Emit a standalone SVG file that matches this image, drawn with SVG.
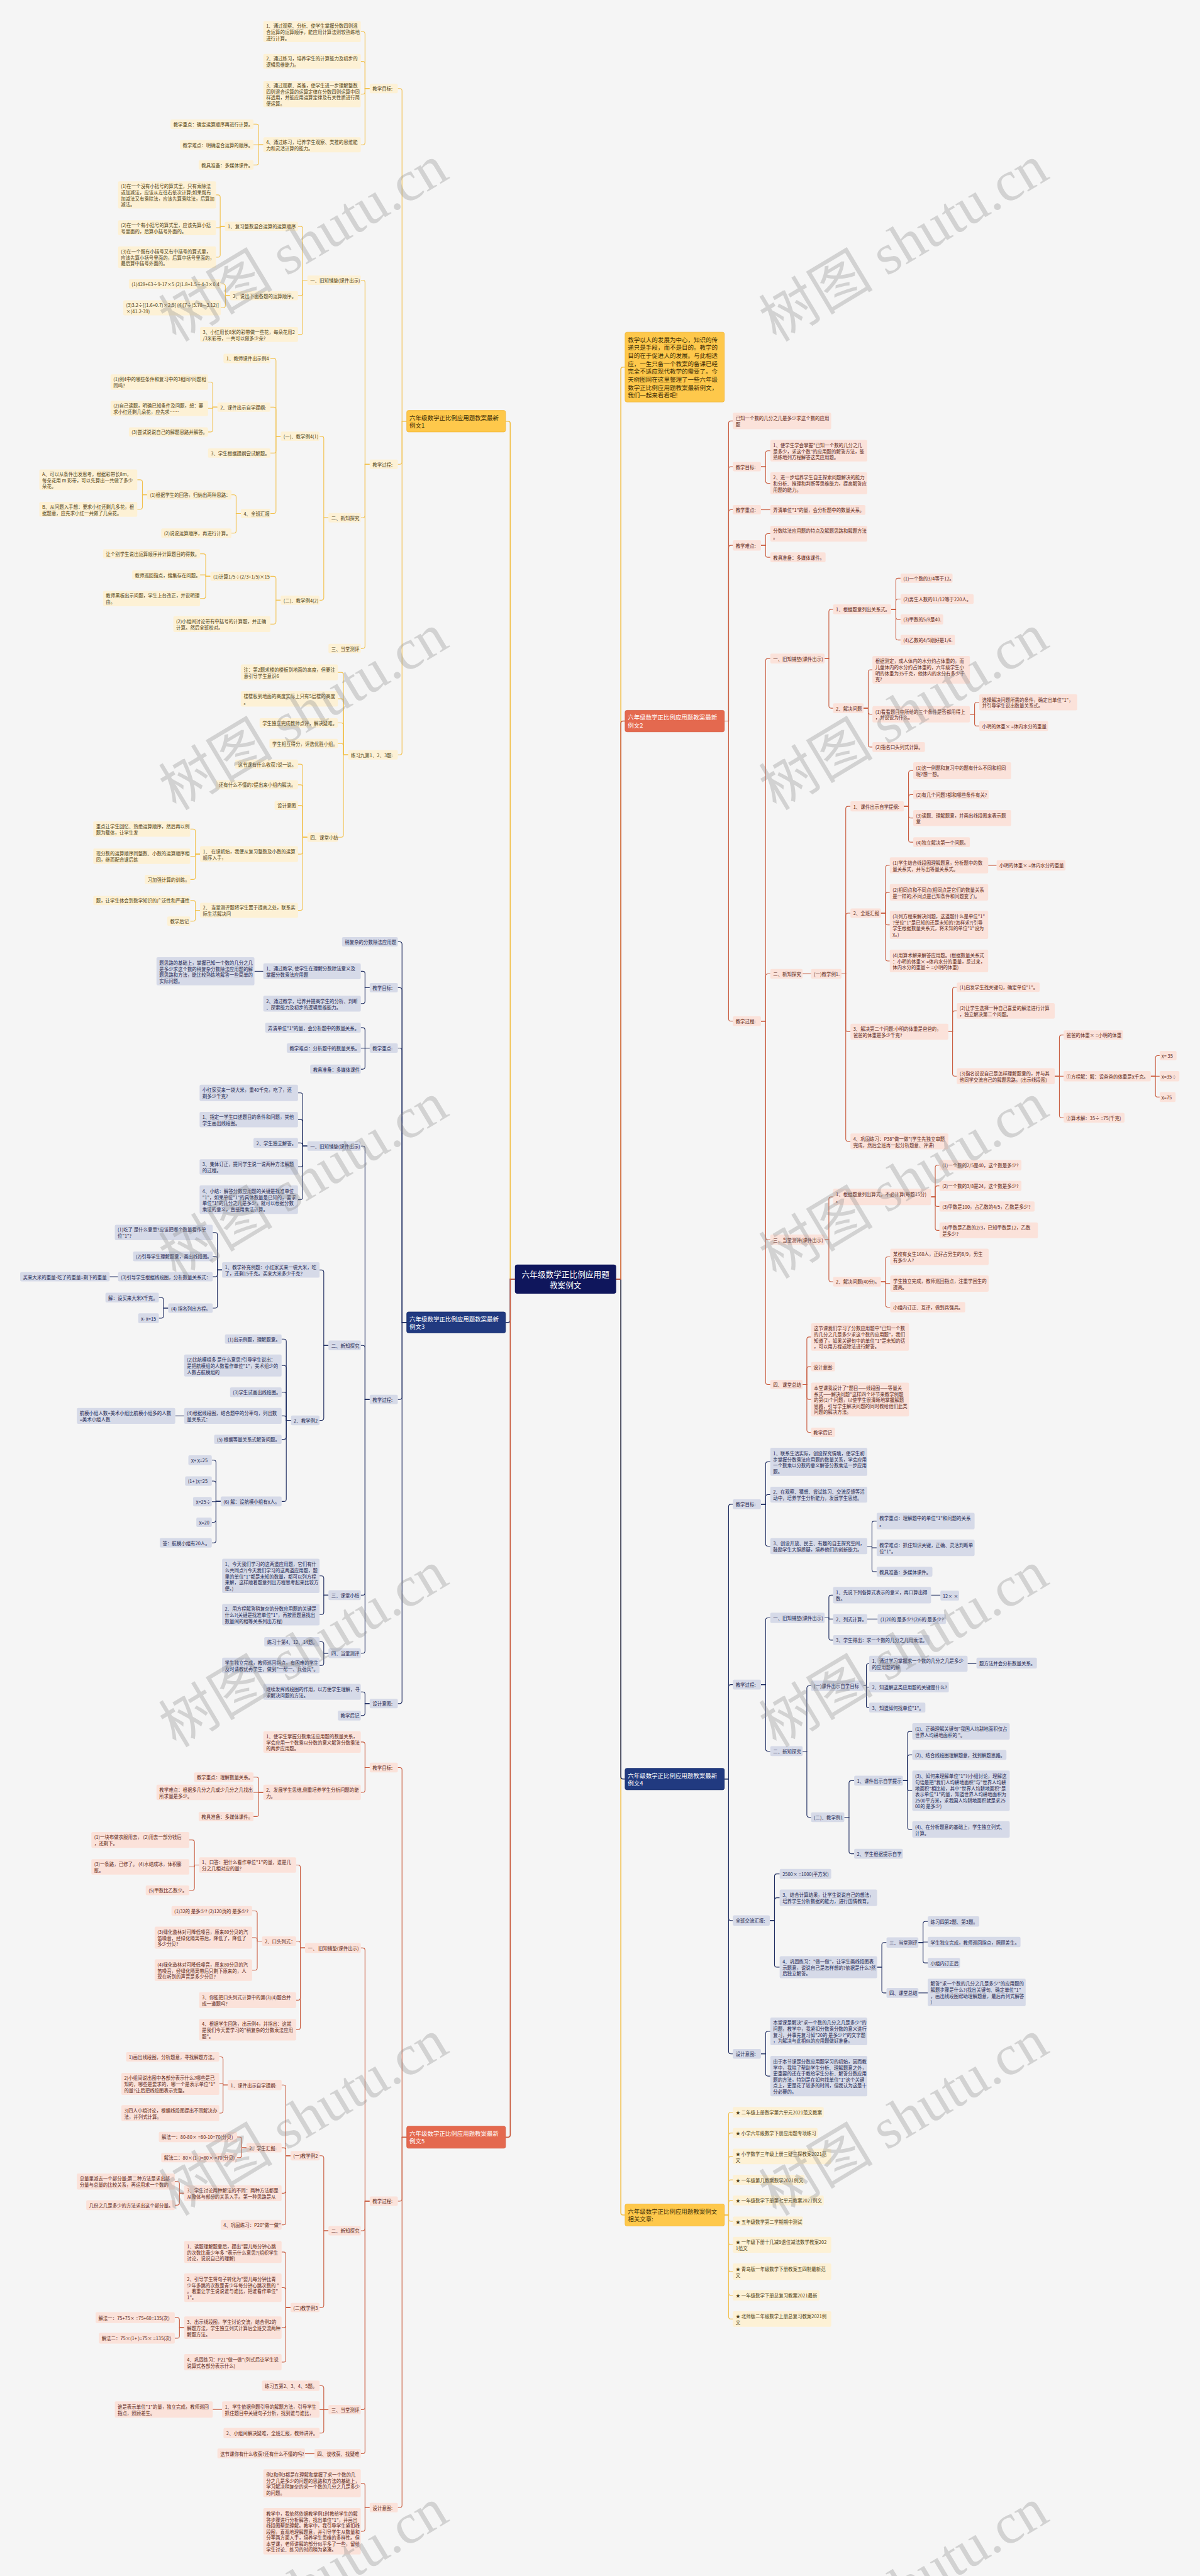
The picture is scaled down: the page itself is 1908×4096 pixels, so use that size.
<svg xmlns="http://www.w3.org/2000/svg" width="1908" height="4096" viewBox="0 0 1908 4096">
<style>
text{font-family:"Noto Sans CJK SC","Noto Sans",sans-serif;font-size:10px;dominant-baseline:central}
.y rect,.b rect,.r rect{rx:3px}
.y rect{fill:#fdf1d5}.y text{fill:#4f3f14}
.b rect{fill:#d6dae8}.b text{fill:#1c2650}
.r rect{fill:#fbe2da}.r text{fill:#5c2616}
.Y rect,.R rect,.B rect{rx:4px;stroke-width:1}
.Y rect{fill:#fec84b;stroke:#f0b433}.Y text{fill:#3b2c05;font-size:12.7px}
.R rect{fill:#e4694f;stroke:#d55a40}.R text{fill:#fff;font-size:12.7px}
.B rect{fill:#213a80;stroke:#1a2f6b}.B text{fill:#fff;font-size:12.7px}
#connectors path{fill:none;stroke-width:1.5}
.cy path{stroke:#f2c14e}.cb path{stroke:#1e2c60}.cr path{stroke:#c95d40}
.wm text{font-family:"Liberation Serif","Noto Sans CJK SC",serif;font-size:122px;fill:#8a8a8a;fill-opacity:0.32;text-anchor:middle}
</style>
<rect width="1908" height="4096" fill="#f5f5f5"/>
<g transform="scale(0.745)">
<g id="connectors">
<g class="cy">
<path style="stroke-width:2.2" d="M1099 2730H1089V904Q1089 899 1084 899H1079"/>
<path style="stroke-width:2.2" d="M1315 2730H1325V788.5Q1325 783.5 1330 783.5H1334"/>
<path style="stroke-width:2.2" d="M1315 2730H1325V4722.5Q1325 4727.5 1330 4727.5H1334"/>
<path d="M868 899H858V194Q858 189 853 189H849"/>
<path d="M868 899H858V986Q858 991 853 991H849"/>
<path d="M868 899H858V1606Q858 1611 853 1611H849"/>
<path d="M789 189H779V72.5Q779 67.5 774 67.5H770"/>
<path d="M789 189H779V136Q779 131 774 131H770"/>
<path d="M789 189H779V196Q779 201 774 201H770"/>
<path d="M789 189H779V304Q779 309 774 309H770"/>
<path d="M562 309H552V270Q552 265 547 265H541"/>
<path d="M562 309H541"/>
<path d="M562 309H552V347Q552 352 547 352H541"/>
<path d="M789 991H779V603Q779 598 774 598H770"/>
<path d="M789 991H779V1100Q779 1105 774 1105H770"/>
<path d="M789 991H779V1379Q779 1384 774 1384H770"/>
<path d="M656 598H646V488Q646 483 641 483H636"/>
<path d="M656 598H646V626Q646 631 641 631H636"/>
<path d="M656 598H646V709Q646 714 641 714H636"/>
<path d="M480 483H470V421Q470 416 465 416H461"/>
<path d="M480 483H470V486H461"/>
<path d="M480 483H470V544Q470 549 465 549H461"/>
<path d="M491 631H481V611Q481 606 476 606H471"/>
<path d="M491 631H481V652Q481 657 476 657H471"/>
<path d="M701 1105H691V936Q691 931 686 931H682"/>
<path d="M701 1105H691V1276Q691 1281 686 1281H682"/>
<path d="M599 931H589V770Q589 765 584 765H577"/>
<path d="M599 931H589V874Q589 869 584 869H577"/>
<path d="M599 931H589V962Q589 967 584 967H577"/>
<path d="M599 931H589V1091Q589 1096 584 1096H577"/>
<path d="M464 869H454V820.5Q454 815.5 449 815.5H444"/>
<path d="M464 869H454V871.5H444"/>
<path d="M464 869H454V917Q454 922 449 922H444"/>
<path d="M514 1096H504V1061Q504 1056 499 1056H494"/>
<path d="M514 1096H504V1133Q504 1138 499 1138H494"/>
<path d="M314 1056H304V1029Q304 1024 299 1024H293"/>
<path d="M314 1056H304V1082Q304 1087 299 1087H293"/>
<path d="M599 1281H589V1235Q589 1230 584 1230H577"/>
<path d="M599 1281H589V1327Q589 1332 584 1332H577"/>
<path d="M449 1230H439V1187Q439 1182 434 1182H427"/>
<path d="M449 1230H439V1227H427"/>
<path d="M449 1230H439V1272.5Q439 1277.5 434 1277.5H427"/>
<path d="M743 1611H733V1440Q733 1435 728 1435H721"/>
<path d="M743 1611H733V1496.5Q733 1491.5 728 1491.5H721"/>
<path d="M743 1611H733V1548Q733 1543 728 1543H721"/>
<path d="M743 1611H733V1592Q733 1587 728 1587H721"/>
<path d="M743 1611H733V1782Q733 1787 728 1787H721"/>
<path d="M656 1787H646V1636Q646 1631 641 1631H636"/>
<path d="M656 1787H646V1680Q646 1675 641 1675H636"/>
<path d="M656 1787H646V1724Q646 1719 641 1719H636"/>
<path d="M656 1787H646V1818Q646 1823 641 1823H636"/>
<path d="M656 1787H646V1938Q646 1943 641 1943H636"/>
<path d="M427 1823H417V1774.5Q417 1769.5 412 1769.5H406"/>
<path d="M427 1823H417V1827.5H406"/>
<path d="M427 1823H417V1872Q417 1877 412 1877H406"/>
<path d="M427 1943H417V1927Q417 1922 412 1922H406"/>
<path d="M427 1943H417V1961Q417 1966 412 1966H406"/>
<path d="M1546 4727.5H1555V4513Q1555 4508 1560 4508H1564"/>
<path d="M1546 4727.5H1555V4557.5Q1555 4552.5 1560 4552.5H1564"/>
<path d="M1546 4727.5H1555V4607.5Q1555 4602.5 1560 4602.5H1564"/>
<path d="M1546 4727.5H1555V4657.5Q1555 4652.5 1560 4652.5H1564"/>
<path d="M1546 4727.5H1555V4701.5Q1555 4696.5 1560 4696.5H1564"/>
<path d="M1546 4727.5H1555V4736Q1555 4741 1560 4741H1564"/>
<path d="M1546 4727.5H1555V4786Q1555 4791 1560 4791H1564"/>
<path d="M1546 4727.5H1555V4843.5Q1555 4848.5 1560 4848.5H1564"/>
<path d="M1546 4727.5H1555V4894Q1555 4899 1560 4899H1564"/>
<path d="M1546 4727.5H1555V4944.5Q1555 4949.5 1560 4949.5H1564"/>
</g>
<g class="cb">
<path style="stroke-width:2.2" d="M1099 2730H1089V2817.5Q1089 2822.5 1084 2822.5H1079"/>
<path style="stroke-width:2.2" d="M1315 2730H1325V3792Q1325 3797 1330 3797H1334"/>
<path d="M868 2822.5H858V2015Q858 2010 853 2010H849"/>
<path d="M868 2822.5H858V2113Q858 2108 853 2108H849"/>
<path d="M868 2822.5H858V2242Q858 2237 853 2237H849"/>
<path d="M868 2822.5H858V2982Q858 2987 853 2987H849"/>
<path d="M868 2822.5H858V3631Q858 3636 853 3636H849"/>
<path d="M789 2108H779V2078Q779 2073 774 2073H770"/>
<path d="M789 2108H779V2137Q779 2142 774 2142H770"/>
<path d="M562 2073H543"/>
<path d="M789 2237H779V2198.5Q779 2193.5 774 2193.5H770"/>
<path d="M789 2237H770"/>
<path d="M789 2237H779V2277Q779 2282 774 2282H770"/>
<path d="M789 2987H779V2451Q779 2446 774 2446H770"/>
<path d="M789 2987H779V2876.5Q779 2871.5 774 2871.5H770"/>
<path d="M789 2987H779V3399.5Q779 3404.5 774 3404.5H770"/>
<path d="M789 2987H779V3523.5Q779 3528.5 774 3528.5H770"/>
<path d="M656 2446H646V2337.5Q646 2332.5 641 2332.5H636"/>
<path d="M656 2446H646V2394.5Q646 2389.5 641 2389.5H636"/>
<path d="M656 2446H646V2444.5Q646 2439.5 641 2439.5H636"/>
<path d="M656 2446H646V2485.5Q646 2490.5 641 2490.5H636"/>
<path d="M656 2446H646V2555.5Q646 2560.5 641 2560.5H636"/>
<path d="M701 2871.5H691V2715.5Q691 2710.5 686 2710.5H682"/>
<path d="M701 2871.5H691V3026.5Q691 3031.5 686 3031.5H682"/>
<path d="M474 2710.5H464V2635.5Q464 2630.5 459 2630.5H454"/>
<path d="M474 2710.5H464V2686.5Q464 2681.5 459 2681.5H454"/>
<path d="M474 2710.5H464V2720Q464 2725 459 2725H454"/>
<path d="M474 2710.5H464V2787Q464 2792 459 2792H454"/>
<path d="M252 2725H234"/>
<path d="M359 2792H349V2774.5Q349 2769.5 344 2769.5H339"/>
<path d="M359 2792H349V2808.5Q349 2813.5 344 2813.5H339"/>
<path d="M621 3031.5H611V2863Q611 2858 606 2858H601"/>
<path d="M621 3031.5H611V2919.5Q611 2914.5 606 2914.5H601"/>
<path d="M621 3031.5H611V2976.5Q611 2971.5 606 2971.5H601"/>
<path d="M621 3031.5H611V3027Q611 3022 606 3022H601"/>
<path d="M621 3031.5H611V3067Q611 3072 606 3072H601"/>
<path d="M621 3031.5H611V3199.5Q611 3204.5 606 3204.5H601"/>
<path d="M393 3022H374"/>
<path d="M471 3204.5H461V3121.5Q461 3116.5 456 3116.5H452"/>
<path d="M471 3204.5H461V3166Q461 3161 456 3161H452"/>
<path d="M471 3204.5H461V3205H452"/>
<path d="M471 3204.5H461V3244Q461 3249 456 3249H452"/>
<path d="M471 3204.5H461V3288Q461 3293 456 3293H452"/>
<path d="M701 3404.5H691V3368.5Q691 3363.5 686 3363.5H682"/>
<path d="M701 3404.5H691V3441Q691 3446 686 3446H682"/>
<path d="M701 3528.5H691V3509Q691 3504 686 3504H682"/>
<path d="M701 3528.5H691V3549.5Q691 3554.5 686 3554.5H682"/>
<path d="M789 3636H779V3616Q779 3611 774 3611H770"/>
<path d="M789 3636H779V3656.5Q779 3661.5 774 3661.5H770"/>
<path d="M1546 3797H1555V3215.5Q1555 3210.5 1560 3210.5H1564"/>
<path d="M1546 3797H1555V3600.5Q1555 3595.5 1560 3595.5H1564"/>
<path d="M1546 3797H1555V4094Q1555 4099 1560 4099H1564"/>
<path d="M1546 3797H1555V4378.5Q1555 4383.5 1560 4383.5H1564"/>
<path d="M1624 3210.5H1634V3125Q1634 3120 1639 3120H1644"/>
<path d="M1624 3210.5H1634V3195Q1634 3190 1639 3190H1644"/>
<path d="M1624 3210.5H1634V3295Q1634 3300 1639 3300H1644"/>
<path d="M1851 3300H1861V3251.5Q1861 3246.5 1866 3246.5H1871"/>
<path d="M1851 3300H1861V3303.5H1871"/>
<path d="M1851 3300H1861V3349.5Q1861 3354.5 1866 3354.5H1871"/>
<path d="M1624 3595.5H1634V3458Q1634 3453 1639 3453H1644"/>
<path d="M1624 3595.5H1634V3732.5Q1634 3737.5 1639 3737.5H1644"/>
<path d="M1760 3453H1769V3409.5Q1769 3404.5 1774 3404.5H1778"/>
<path d="M1760 3453H1769V3455.5H1778"/>
<path d="M1760 3453H1769V3495.5Q1769 3500.5 1774 3500.5H1778"/>
<path d="M1987 3404.5H2007"/>
<path d="M1851 3455.5H1873"/>
<path d="M1713 3737.5H1722V3603Q1722 3598 1727 3598H1731"/>
<path d="M1713 3737.5H1722V3873.5Q1722 3878.5 1727 3878.5H1731"/>
<path d="M1843 3598H1849V3555Q1849 3551 1853 3551H1855"/>
<path d="M1843 3598H1849V3601H1855"/>
<path d="M1843 3598H1849V3640.5Q1849 3644.5 1853 3644.5H1855"/>
<path d="M2065 3551H2084"/>
<path d="M1802 3878.5H1812V3805.5Q1812 3800.5 1817 3800.5H1823"/>
<path d="M1802 3878.5H1812V3951.5Q1812 3956.5 1817 3956.5H1823"/>
<path d="M1927 3800.5H1937V3700.5Q1937 3695.5 1942 3695.5H1947"/>
<path d="M1927 3800.5H1937V3750.5Q1937 3745.5 1942 3745.5H1947"/>
<path d="M1927 3800.5H1937V3817Q1937 3822 1942 3822H1947"/>
<path d="M1927 3800.5H1937V3899.5Q1937 3904.5 1942 3904.5H1947"/>
<path d="M1643 4099H1653V4004.5Q1653 3999.5 1658 3999.5H1664"/>
<path d="M1643 4099H1653V4055.5Q1653 4050.5 1658 4050.5H1664"/>
<path d="M1643 4099H1653V4193.5Q1653 4198.5 1658 4198.5H1664"/>
<path d="M1872 4198.5H1882V4151Q1882 4146 1887 4146H1892"/>
<path d="M1872 4198.5H1882V4248.5Q1882 4253.5 1887 4253.5H1892"/>
<path d="M1960 4146H1970V4106Q1970 4101 1975 4101H1980"/>
<path d="M1960 4146H1970V4145H1980"/>
<path d="M1960 4146H1970V4184.5Q1970 4189.5 1975 4189.5H1980"/>
<path d="M1960 4253.5H1980"/>
<path d="M1624 4383.5H1634V4340.5Q1634 4335.5 1639 4335.5H1644"/>
<path d="M1624 4383.5H1634V4426Q1634 4431 1639 4431H1644"/>
</g>
<g class="cr">
<path style="stroke-width:2.2" d="M1099 2730H1089V4556.5Q1089 4561.5 1084 4561.5H1079"/>
<path style="stroke-width:2.2" d="M1315 2730H1325V1544Q1325 1539 1330 1539H1334"/>
<path d="M868 4561.5H858V3777.5Q858 3772.5 853 3772.5H849"/>
<path d="M868 4561.5H858V4693Q858 4698 853 4698H849"/>
<path d="M868 4561.5H858V5347Q858 5352 853 5352H849"/>
<path d="M789 3772.5H779V3723Q779 3718 774 3718H770"/>
<path d="M789 3772.5H779V3820.5Q779 3825.5 774 3825.5H770"/>
<path d="M562 3825.5H552V3798Q552 3793 547 3793H541"/>
<path d="M562 3825.5H541"/>
<path d="M562 3825.5H552V3872Q552 3877 547 3877H541"/>
<path d="M789 4698H779V4162.5Q779 4157.5 774 4157.5H770"/>
<path d="M789 4698H779V4756Q779 4761 774 4761H770"/>
<path d="M789 4698H779V5138Q779 5143 774 5143H770"/>
<path d="M789 4698H779V5232Q779 5237 774 5237H770"/>
<path d="M651 4157.5H641V3985.5Q641 3980.5 636 3980.5H632"/>
<path d="M651 4157.5H641V4148Q641 4143 636 4143H632"/>
<path d="M651 4157.5H641V4264Q641 4269 636 4269H632"/>
<path d="M651 4157.5H641V4327Q641 4332 636 4332H632"/>
<path d="M425 3980.5H415V3932Q415 3927 410 3927H404"/>
<path d="M425 3980.5H415V3984.5H404"/>
<path d="M425 3980.5H415V4029.5Q415 4034.5 410 4034.5H404"/>
<path d="M559 4143H549V4083.5Q549 4078.5 544 4078.5H538"/>
<path d="M559 4143H549V4140.5Q549 4135.5 544 4135.5H538"/>
<path d="M559 4143H549V4200Q549 4205 544 4205H538"/>
<path d="M701 4761H691V4606Q691 4601 686 4601H682"/>
<path d="M701 4761H691V4920Q691 4925 686 4925H682"/>
<path d="M620 4601H610V4455Q610 4450 605 4450H601"/>
<path d="M620 4601H610V4589Q610 4584 605 4584H601"/>
<path d="M620 4601H610V4676Q610 4681 605 4681H601"/>
<path d="M620 4601H610V4743.5Q610 4748.5 605 4748.5H601"/>
<path d="M486 4450H476V4395Q476 4390 471 4390H468"/>
<path d="M486 4450H476V4447.5H468"/>
<path d="M486 4450H476V4505Q476 4510 471 4510H468"/>
<path d="M526 4584H516V4566Q516 4561 511 4561H506"/>
<path d="M526 4584H516V4600Q516 4605 511 4605H506"/>
<path d="M393 4681H383V4661Q383 4656 378 4656H373"/>
<path d="M393 4681H383V4701.5Q383 4706.5 378 4706.5H373"/>
<path d="M620 4925H610V4811.5Q610 4806.5 605 4806.5H601"/>
<path d="M620 4925H610V4887.5Q610 4882.5 605 4882.5H601"/>
<path d="M620 4925H610V4963Q610 4968 605 4968H601"/>
<path d="M620 4925H610V5036.5Q610 5041.5 605 5041.5H601"/>
<path d="M393 4968H383V4951.5Q383 4946.5 378 4946.5H373"/>
<path d="M393 4968H383V4985.5Q383 4990.5 378 4990.5H373"/>
<path d="M701 5143H691V5097Q691 5092 686 5092H682"/>
<path d="M701 5143H682"/>
<path d="M701 5143H691V5188Q691 5193 686 5193H682"/>
<path d="M474 5142.5H454"/>
<path d="M671 5237H651"/>
<path d="M789 5352H779V5305Q779 5300 774 5300H770"/>
<path d="M789 5352H779V5397.5Q779 5402.5 774 5402.5H770"/>
<path d="M1546 1539H1555V903.5Q1555 898.5 1560 898.5H1564"/>
<path d="M1546 1539H1555V1001Q1555 996 1560 996H1564"/>
<path d="M1546 1539H1555V1093Q1555 1088 1560 1088H1564"/>
<path d="M1546 1539H1555V1169Q1555 1164 1560 1164H1564"/>
<path d="M1546 1539H1555V2174.5Q1555 2179.5 1560 2179.5H1564"/>
<path d="M1624 996H1634V967Q1634 962 1639 962H1644"/>
<path d="M1624 996H1634V1026.5Q1634 1031.5 1639 1031.5H1644"/>
<path d="M1624 1088H1644"/>
<path d="M1624 1164H1634V1144Q1634 1139 1639 1139H1644"/>
<path d="M1624 1164H1634V1184.5Q1634 1189.5 1639 1189.5H1644"/>
<path d="M1624 2179.5H1634V1410.5Q1634 1405.5 1639 1405.5H1644"/>
<path d="M1624 2179.5H1634V2083.5Q1634 2078.5 1639 2078.5H1644"/>
<path d="M1624 2179.5H1634V2641Q1634 2646 1639 2646H1644"/>
<path d="M1624 2179.5H1634V2950Q1634 2955 1639 2955H1644"/>
<path d="M1760 1405.5H1769V1305.5Q1769 1300.5 1774 1300.5H1778"/>
<path d="M1760 1405.5H1769V1506.5Q1769 1511.5 1774 1511.5H1778"/>
<path d="M1902 1300.5H1912V1239Q1912 1234 1917 1234H1922"/>
<path d="M1902 1300.5H1912V1283.5Q1912 1278.5 1917 1278.5H1922"/>
<path d="M1902 1300.5H1912V1317Q1912 1322 1917 1322H1922"/>
<path d="M1902 1300.5H1912V1361Q1912 1366 1917 1366H1922"/>
<path d="M1843 1511.5H1853V1434.5Q1853 1429.5 1858 1429.5H1862"/>
<path d="M1843 1511.5H1853V1519.5Q1853 1524.5 1858 1524.5H1862"/>
<path d="M1843 1511.5H1853V1589.5Q1853 1594.5 1858 1594.5H1862"/>
<path d="M2070 1524.5H2080V1504Q2080 1499 2085 1499H2090"/>
<path d="M2070 1524.5H2080V1544.5Q2080 1549.5 2085 1549.5H2090"/>
<path d="M1713 2078.5H1731"/>
<path d="M1796 2078.5H1805V1726Q1805 1721 1810 1721H1815"/>
<path d="M1796 2078.5H1805V1954Q1805 1949 1810 1949H1815"/>
<path d="M1796 2078.5H1805V2197Q1805 2202 1810 2202H1815"/>
<path d="M1796 2078.5H1805V2431Q1805 2436 1810 2436H1815"/>
<path d="M1929 1721H1939V1650Q1939 1645 1944 1645H1949"/>
<path d="M1929 1721H1939V1701Q1939 1696 1944 1696H1949"/>
<path d="M1929 1721H1939V1741Q1939 1746 1944 1746H1949"/>
<path d="M1929 1721H1939V1792.5Q1939 1797.5 1944 1797.5H1949"/>
<path d="M1880 1949H1890V1852Q1890 1847 1895 1847H1899"/>
<path d="M1880 1949H1890V1909.5Q1890 1904.5 1895 1904.5H1899"/>
<path d="M1880 1949H1890V1969Q1890 1974 1895 1974H1899"/>
<path d="M1880 1949H1890V2046Q1890 2051 1895 2051H1899"/>
<path d="M2109 1847H2127"/>
<path d="M2024 2202H2033V2112Q2033 2107 2038 2107H2042"/>
<path d="M2024 2202H2033V2162.5Q2033 2157.5 2038 2157.5H2042"/>
<path d="M2024 2202H2033V2292Q2033 2297 2038 2297H2042"/>
<path d="M2251 2297H2261V2214Q2261 2209 2266 2209H2270"/>
<path d="M2251 2297H2270"/>
<path d="M2251 2297H2261V2380.5Q2261 2385.5 2266 2385.5H2270"/>
<path d="M2456 2297H2466V2258Q2466 2253 2471 2253H2475"/>
<path d="M2456 2297H2475"/>
<path d="M2456 2297H2466V2336.5Q2466 2341.5 2471 2341.5H2475"/>
<path d="M1760 2646H1769V2559.5Q1769 2554.5 1774 2554.5H1778"/>
<path d="M1760 2646H1769V2730.5Q1769 2735.5 1774 2735.5H1778"/>
<path d="M1987 2554.5H1996V2492Q1996 2487 2001 2487H2005"/>
<path d="M1987 2554.5H1996V2536Q1996 2531 2001 2531H2005"/>
<path d="M1987 2554.5H1996V2570Q1996 2575 2001 2575H2005"/>
<path d="M1987 2554.5H1996V2621Q1996 2626 2001 2626H2005"/>
<path d="M1880 2735.5H1890V2687.5Q1890 2682.5 1895 2682.5H1900"/>
<path d="M1880 2735.5H1890V2739.5H1900"/>
<path d="M1880 2735.5H1890V2785Q1890 2790 1895 2790H1900"/>
<path d="M1713 2955H1722V2858.5Q1722 2853.5 1727 2853.5H1731"/>
<path d="M1713 2955H1722V2922Q1722 2917 1727 2917H1731"/>
<path d="M1713 2955H1722V2982Q1722 2987 1727 2987H1731"/>
<path d="M1713 2955H1722V3052Q1722 3057 1727 3057H1731"/>
</g>
</g>

<g id="center"><rect x="1099" y="2699" width="216" height="62" rx="5" fill="#0f165c"/><text x="1207" y="2719" text-anchor="middle" fill="#fff" style="font-size:17px">六年级数学正比例应用题<tspan x="1207" dy="22">教案例文</tspan></text></g>

<g id="B1" class="Y"><rect x="868" y="876" width="211" height="46"/><text x="874" y="890.8">六年级数学正比例应用题教案最新<tspan x="874" dy="16.4">例文1</tspan></text></g>
<g id="B3" class="B"><rect x="868" y="2800" width="211" height="45"/><text x="874" y="2814.3">六年级数学正比例应用题教案最新<tspan x="874" dy="16.4">例文3</tspan></text></g>
<g id="B5" class="R"><rect x="868" y="4538" width="211" height="47"/><text x="874" y="4553.3">六年级数学正比例应用题教案最新<tspan x="874" dy="16.4">例文5</tspan></text></g>
<g id="intro" class="Y"><rect x="1334" y="709" width="212" height="149"/><text x="1340" y="724.5" style="font-size:12.8px">教学以人的发展为中心，知识的传<tspan x="1340" dy="17">递只是手段，而不是目的。教学的</tspan><tspan x="1340" dy="17">目的在于促进人的发展。与此相适</tspan><tspan x="1340" dy="17">应，一生只备一个教案的备课已经</tspan><tspan x="1340" dy="17">完全不适应现代教学的需要了。今</tspan><tspan x="1340" dy="17">天树图网在这里整理了一些六年级</tspan><tspan x="1340" dy="17">数学正比例应用题教案最新例文，</tspan><tspan x="1340" dy="17">我们一起来看看吧!</tspan></text></g>
<g id="B2" class="R"><rect x="1334" y="1516" width="212" height="46"/><text x="1340" y="1530.8">六年级数学正比例应用题教案最新<tspan x="1340" dy="16.4">例文2</tspan></text></g>
<g id="B4" class="B"><rect x="1334" y="3774" width="212" height="46"/><text x="1340" y="3788.8">六年级数学正比例应用题教案最新<tspan x="1340" dy="16.4">例文4</tspan></text></g>
<g id="B6" class="Y"><rect x="1334" y="4704" width="212" height="47"/><text x="1340" y="4719.3">六年级数学正比例应用题教案例文<tspan x="1340" dy="16.4">相关文章:</tspan></text></g>

<g id="Y1" class="y"><rect x="789" y="179" width="60" height="20"/><text x="795" y="189">教学目标:</text></g>
<g id="Y1a" class="y"><rect x="562" y="45" width="208" height="45"/><text x="568" y="54.8">1、通过观察、分析、使学生掌握分数四则混<tspan x="568" dy="12.7">合运算的运算顺序，能应用计算法则较熟练地</tspan><tspan x="568" dy="12.7">进行计算。</tspan></text></g>
<g id="Y1b" class="y"><rect x="562" y="115" width="208" height="32"/><text x="568" y="124.65">2、通过练习，培养学生的计算能力及初步的<tspan x="568" dy="12.7">逻辑思维能力。</tspan></text></g>
<g id="Y1c" class="y"><rect x="562" y="173" width="208" height="56"/><text x="568" y="181.95">3、通过观察、类推，使学生进一步理解整数<tspan x="568" dy="12.7">四则混合运算的运算定律在分数四则运算中同</tspan><tspan x="568" dy="12.7">样适用，并能应用运算定律及有关性质进行简</tspan><tspan x="568" dy="12.7">便运算。</tspan></text></g>
<g id="Y1d" class="y"><rect x="562" y="293" width="208" height="32"/><text x="568" y="302.65">4、通过练习，培养学生观察、类推的思维能<tspan x="568" dy="12.7">力和灵活计算的能力。</tspan></text></g>
<g id="Y1d1" class="y"><rect x="364" y="255" width="177" height="20"/><text x="370" y="265">教学重点：确定运算顺序再进行计算。</text></g>
<g id="Y1d2" class="y"><rect x="384" y="299" width="157" height="20"/><text x="390" y="309">教学难点：明确混合运算的顺序。</text></g>
<g id="Y1d3" class="y"><rect x="424" y="342" width="117" height="20"/><text x="430" y="352">教具准备：多媒体课件。</text></g>
<g id="Y2" class="y"><rect x="789" y="981" width="60" height="20"/><text x="795" y="991">教学过程:</text></g>
<g id="Y21" class="y"><rect x="656" y="588" width="114" height="20"/><text x="662" y="598">一、旧知铺垫(课件出示)</text></g>
<g id="Y211" class="y"><rect x="480" y="473" width="156" height="20"/><text x="486" y="483">1、复习整数混合运算的运算顺序</text></g>
<g id="Y2111" class="y"><rect x="252" y="387" width="209" height="58"/><text x="258" y="396.95">(1)在一个没有小括号的算式里，只有乘除法<tspan x="258" dy="12.7">或加减法，应该从左往右依次计算;如果既有</tspan><tspan x="258" dy="12.7">加减法又有乘除法，应该先算乘除法，后算加</tspan><tspan x="258" dy="12.7">减法。</tspan></text></g>
<g id="Y2112" class="y"><rect x="252" y="470" width="209" height="32"/><text x="258" y="479.65">(2)在一个有小括号的算式里，应该先算小括<tspan x="258" dy="12.7">号里面的，后算小括号外面的。</tspan></text></g>
<g id="Y2113" class="y"><rect x="252" y="526" width="209" height="46"/><text x="258" y="536.3">(3)在一个既有小括号又有中括号的算式里，<tspan x="258" dy="12.7">应该先算小括号里面的，后算中括号里面的，</tspan><tspan x="258" dy="12.7">最后算中括号外面的。</tspan></text></g>
<g id="Y212" class="y"><rect x="491" y="621" width="145" height="20"/><text x="497" y="631">2、说出下面各题的运算顺序。</text></g>
<g id="Y2121" class="y"><rect x="275" y="596" width="196" height="20"/><text x="281" y="606">(1)428+63÷9-17×5 (2)1.8+1.5÷4-3×0.4</text></g>
<g id="Y2122" class="y"><rect x="263" y="641" width="208" height="32"/><text x="269" y="650.65">(3)3.2÷[(1.6+0.7)×2.5] (4)[7÷(5.78—3.12)]<tspan x="269" dy="12.7">×(41.2-39)</tspan></text></g>
<g id="Y213" class="y"><rect x="427" y="698" width="209" height="32"/><text x="433" y="707.65">3、小红用长8米的彩带做一些花，每朵花用2<tspan x="433" dy="12.7">/3米彩带，一共可以做多少朵?</tspan></text></g>
<g id="Y22" class="y"><rect x="701" y="1095" width="69" height="20"/><text x="707" y="1105">二、新知探究</text></g>
<g id="Y221" class="y"><rect x="599" y="921" width="83" height="20"/><text x="605" y="931">(一)、教学例4(1)</text></g>
<g id="Y2211" class="y"><rect x="477" y="755" width="100" height="20"/><text x="483" y="765">1、教师课件出示例4</text></g>
<g id="Y2212" class="y"><rect x="464" y="859" width="113" height="20"/><text x="470" y="869">2、课件出示自学提纲:</text></g>
<g id="Y22121" class="y"><rect x="236" y="799" width="208" height="33"/><text x="242" y="809.15">(1)例4中的哪些条件和复习中的3相同?问题相<tspan x="242" dy="12.7">同吗?</tspan></text></g>
<g id="Y22122" class="y"><rect x="236" y="855" width="208" height="33"/><text x="242" y="865.15">(2)自己读题，明确已知条件及问题，想：要<tspan x="242" dy="12.7">求小红还剩几朵花，应先求……</tspan></text></g>
<g id="Y22123" class="y"><rect x="275" y="912" width="169" height="20"/><text x="281" y="922">(3)尝试说说自己的解题思路并解答。</text></g>
<g id="Y2213" class="y"><rect x="444" y="957" width="133" height="20"/><text x="450" y="967">3、学生根据提纲尝试解题。</text></g>
<g id="Y2214" class="y"><rect x="514" y="1086" width="63" height="20"/><text x="520" y="1096">4、全班汇报</text></g>
<g id="Y22141" class="y"><rect x="314" y="1046" width="180" height="20"/><text x="320" y="1056">(1)根据学生的回答，归纳出两种思路：</text></g>
<g id="Y221411" class="y"><rect x="84" y="1002" width="209" height="44"/><text x="90" y="1011.3">A、可以从条件出发思考，根据彩带长8m，<tspan x="90" dy="12.7">每朵花用 m 彩带，可以先算出一共做了多少</tspan><tspan x="90" dy="12.7">朵花。</tspan></text></g>
<g id="Y221412" class="y"><rect x="84" y="1071" width="209" height="32"/><text x="90" y="1080.65">B、从问题入手想：要求小红还剩几多花，根<tspan x="90" dy="12.7">据题意，应先求小红一共做了几朵花。</tspan></text></g>
<g id="Y22142" class="y"><rect x="344" y="1128" width="150" height="20"/><text x="350" y="1138">(2)说说运算顺序，再进行计算。</text></g>
<g id="Y222" class="y"><rect x="599" y="1271" width="83" height="20"/><text x="605" y="1281">(二)、教学例4(2)</text></g>
<g id="Y2221" class="y"><rect x="449" y="1220" width="128" height="20"/><text x="455" y="1230">(1)计算1/5÷(2/3+1/5)×15</text></g>
<g id="Y22211" class="y"><rect x="220" y="1172" width="207" height="20"/><text x="226" y="1182">让个别学生说出运算顺序并计算题目的得数。</text></g>
<g id="Y22212" class="y"><rect x="282" y="1217" width="145" height="20"/><text x="288" y="1227">教师巡回指点，搜集存在问题。</text></g>
<g id="Y22213" class="y"><rect x="220" y="1261" width="207" height="33"/><text x="226" y="1271.15">教师黑板出示问题，学生上台改正，并说明理<tspan x="226" dy="12.7">由。</tspan></text></g>
<g id="Y2222" class="y"><rect x="370" y="1315" width="207" height="34"/><text x="376" y="1325.65">(2)小组间讨论带有中括号的计算题，并正确<tspan x="376" dy="12.7">计算。然后全班校对。</tspan></text></g>
<g id="Y23" class="y"><rect x="701" y="1374" width="69" height="20"/><text x="707" y="1384">三、当堂测评</text></g>
<g id="Y3" class="y"><rect x="743" y="1601" width="106" height="20"/><text x="749" y="1611">练习九第1、2、3题:</text></g>
<g id="Y31" class="y"><rect x="514" y="1418" width="207" height="34"/><text x="520" y="1428.65">注：第2题求楼的楼板到地面的高度，但要注<tspan x="520" dy="12.7">意引导学生意识6</tspan></text></g>
<g id="Y32" class="y"><rect x="514" y="1475" width="207" height="33"/><text x="520" y="1485.15">楼楼板到地面的高度实际上只有5层楼的高度<tspan x="520" dy="12.7">。</tspan></text></g>
<g id="Y33" class="y"><rect x="554" y="1533" width="167" height="20"/><text x="560" y="1543">学生独立完成教师点评，解决疑难。</text></g>
<g id="Y34" class="y"><rect x="575" y="1577" width="146" height="20"/><text x="581" y="1587">学生相互得分，评选优胜小组。</text></g>
<g id="Y35" class="y"><rect x="656" y="1777" width="65" height="20"/><text x="662" y="1787">四、课堂小结</text></g>
<g id="Y351" class="y"><rect x="502" y="1621" width="134" height="20"/><text x="508" y="1631">这节课有什么收获?说一说。</text></g>
<g id="Y352" class="y"><rect x="461" y="1665" width="175" height="20"/><text x="467" y="1675">还有什么不懂的?提出来小组内解决。</text></g>
<g id="Y353" class="y"><rect x="586" y="1709" width="50" height="20"/><text x="592" y="1719">设计意图</text></g>
<g id="Y354" class="y"><rect x="427" y="1806" width="209" height="34"/><text x="433" y="1816.65">1、 在课初始，我便从复习整数及小数的运算<tspan x="433" dy="12.7">顺序入手，</tspan></text></g>
<g id="Y3541" class="y"><rect x="199" y="1753" width="207" height="33"/><text x="205" y="1763.15">重点让学生回忆、熟悉运算顺序，然后再以例<tspan x="205" dy="12.7">题为载体，让学生发</tspan></text></g>
<g id="Y3542" class="y"><rect x="199" y="1811" width="207" height="33"/><text x="205" y="1821.15">现分数的运算顺序同整数、小数的运算顺序相<tspan x="205" dy="12.7">同，继而配合课后练</tspan></text></g>
<g id="Y3543" class="y"><rect x="309" y="1867" width="97" height="20"/><text x="315" y="1877">习加强计算的训练。</text></g>
<g id="Y355" class="y"><rect x="427" y="1927" width="209" height="32"/><text x="433" y="1936.65">2、 当堂测评题将学生置于提高之处，联系实<tspan x="433" dy="12.7">际生活解决问</tspan></text></g>
<g id="Y3551" class="y"><rect x="199" y="1912" width="207" height="20"/><text x="205" y="1922">题，让学生体会到数学知识的广泛性和严谨性</text></g>
<g id="Y3552" class="y"><rect x="357" y="1956" width="49" height="20"/><text x="363" y="1966">教学后记</text></g>

<g id="C1" class="b"><rect x="730" y="2000" width="119" height="20"/><text x="736" y="2010">稍复杂的分数除法应用题</text></g>
<g id="C2" class="b"><rect x="789" y="2098" width="60" height="20"/><text x="795" y="2108">教学目标:</text></g>
<g id="C21" class="b"><rect x="562" y="2056" width="208" height="34"/><text x="568" y="2066.65">1、通过教学, 使学生在理解分数除法意义及<tspan x="568" dy="12.7">掌握分数乘法应用题</tspan></text></g>
<g id="C211" class="b"><rect x="334" y="2043" width="209" height="60"/><text x="340" y="2053.95">题思路的基础上，掌握已知一个数的几分之几<tspan x="340" dy="12.7">是多少求这个数的稍复杂分数除法应用题的解</tspan><tspan x="340" dy="12.7">题思路和方法，能比较熟练地解答一些简单的</tspan><tspan x="340" dy="12.7">实际问题。</tspan></text></g>
<g id="C22" class="b"><rect x="562" y="2125" width="208" height="34"/><text x="568" y="2135.65">2、通过教学，培养并提高学生的分析、判断<tspan x="568" dy="12.7">、探索能力及初步的逻辑思维能力。</tspan></text></g>
<g id="C3" class="b"><rect x="789" y="2227" width="60" height="20"/><text x="795" y="2237">教学重点:</text></g>
<g id="C31" class="b"><rect x="566" y="2183" width="204" height="21"/><text x="572" y="2193.5">弄清单位"1"的量，会分析题中的数量关系。</text></g>
<g id="C32" class="b"><rect x="612" y="2227" width="158" height="20"/><text x="618" y="2237">教学难点：分析题中的数量关系。</text></g>
<g id="C33" class="b"><rect x="662" y="2272" width="108" height="20"/><text x="668" y="2282">教具准备：多媒体课件</text></g>
<g id="C4" class="b"><rect x="789" y="2977" width="60" height="20"/><text x="795" y="2987">教学过程:</text></g>
<g id="C41" class="b"><rect x="656" y="2436" width="114" height="20"/><text x="662" y="2446">一、旧知铺垫(课件出示)</text></g>
<g id="C411" class="b"><rect x="426" y="2315" width="210" height="35"/><text x="432" y="2326.15">小红家买来一袋大米，重40千克，吃了，还<tspan x="432" dy="12.7">剩多少千克?</tspan></text></g>
<g id="C412" class="b"><rect x="426" y="2373" width="210" height="33"/><text x="432" y="2383.15">1、指定一学生口述题目的条件和问题，其他<tspan x="432" dy="12.7">学生画出线段图。</tspan></text></g>
<g id="C413" class="b"><rect x="541" y="2429" width="95" height="21"/><text x="547" y="2439.5">2、学生独立解答。</text></g>
<g id="C414" class="b"><rect x="426" y="2474" width="210" height="33"/><text x="432" y="2484.15">3、集体订正，提问学生说一说两种方法解题<tspan x="432" dy="12.7">的过程。</tspan></text></g>
<g id="C415" class="b"><rect x="426" y="2530" width="210" height="61"/><text x="432" y="2541.45">4、小结：解答分数应用题的关键是找准单位<tspan x="432" dy="12.7">"1"，如果单位"1"的具体数量是已知的，要求</tspan><tspan x="432" dy="12.7">单位"1"的几分之几是多少，就可以根据分数</tspan><tspan x="432" dy="12.7">乘法的意义，直接用乘法计算。</tspan></text></g>
<g id="C42" class="b"><rect x="701" y="2861" width="69" height="21"/><text x="707" y="2871.5">二、新知探究</text></g>
<g id="C421" class="b"><rect x="474" y="2694" width="208" height="33"/><text x="480" y="2704.15">1、教学补充例题：小红家买来一袋大米，吃<tspan x="480" dy="12.7">了，还剩15千克。买来大米多少千克?</tspan></text></g>
<g id="C4211" class="b"><rect x="245" y="2614" width="209" height="33"/><text x="251" y="2624.15">(1)吃了 是什么意思?应该把哪个数量看作单<tspan x="251" dy="12.7">位"1"?</tspan></text></g>
<g id="C4212" class="b"><rect x="284" y="2671" width="170" height="21"/><text x="290" y="2681.5">(2)引导学生理解题意，画出线段图。</text></g>
<g id="C4213" class="b"><rect x="252" y="2715" width="202" height="20"/><text x="258" y="2725">(3)引导学生根据线段图，分析数量关系式：</text></g>
<g id="C42131" class="b"><rect x="43" y="2715" width="191" height="20"/><text x="49" y="2725">买来大米的重量-吃了的重量=剩下的重量</text></g>
<g id="C4214" class="b"><rect x="359" y="2782" width="95" height="20"/><text x="365" y="2792">(4) 指名列出方程。</text></g>
<g id="C42141" class="b"><rect x="225" y="2759" width="114" height="21"/><text x="231" y="2769.5">解：设买来大米X千克。</text></g>
<g id="C42142" class="b"><rect x="295" y="2803" width="44" height="21"/><text x="301" y="2813.5">x- x=15</text></g>
<g id="C422" class="b"><rect x="621" y="3021" width="61" height="21"/><text x="627" y="3031.5">2、教学例2</text></g>
<g id="C4221" class="b"><rect x="480" y="2848" width="121" height="20"/><text x="486" y="2858">(1)出示例题，理解题意。</text></g>
<g id="C4222" class="b"><rect x="393" y="2891" width="208" height="47"/><text x="399" y="2901.8">(2)比航模组多 是什么意思?引导学生说出：<tspan x="399" dy="12.7">是把航模组的人数看作单位"1"，美术组少的</tspan><tspan x="399" dy="12.7">人数占航模组的</tspan></text></g>
<g id="C4223" class="b"><rect x="491" y="2961" width="110" height="21"/><text x="497" y="2971.5">(3)学生试画出线段图。</text></g>
<g id="C4224" class="b"><rect x="393" y="3005" width="208" height="34"/><text x="399" y="3015.65">(4)根据线段图，结合题中的分率句，列出数<tspan x="399" dy="12.7">量关系式：</tspan></text></g>
<g id="C42241" class="b"><rect x="164" y="3005" width="210" height="34"/><text x="170" y="3015.65">航模小组人数+美术小组比航模小组多的人数<tspan x="170" dy="12.7">=美术小组人数</tspan></text></g>
<g id="C4225" class="b"><rect x="457" y="3062" width="144" height="20"/><text x="463" y="3072">(5) 根据等量关系式解答问题。</text></g>
<g id="C4226" class="b"><rect x="471" y="3194" width="130" height="21"/><text x="477" y="3204.5">(6) 解：设航模小组有χ人。</text></g>
<g id="C42261" class="b"><rect x="402" y="3106" width="50" height="21"/><text x="408" y="3116.5">χ+ χ=25</text></g>
<g id="C42262" class="b"><rect x="395" y="3151" width="57" height="20"/><text x="401" y="3161">(1+ )χ=25</text></g>
<g id="C42263" class="b"><rect x="412" y="3195" width="40" height="20"/><text x="418" y="3205">χ=25÷</text></g>
<g id="C42264" class="b"><rect x="419" y="3239" width="33" height="20"/><text x="425" y="3249">χ=20</text></g>
<g id="C42265" class="b"><rect x="341" y="3283" width="111" height="20"/><text x="347" y="3293">答：航模小组有20人。</text></g>
<g id="C43" class="b"><rect x="701" y="3394" width="69" height="21"/><text x="707" y="3404.5">三、课堂小结</text></g>
<g id="C431" class="b"><rect x="474" y="3327" width="208" height="73"/><text x="480" y="3338.1">1、今天我们学习的这两道应用题，它们有什<tspan x="480" dy="12.7">么共同点?(今天我们学习的这两道应用题，题</tspan><tspan x="480" dy="12.7">里的单位"1"都是未知的数量，都可以列方程</tspan><tspan x="480" dy="12.7">来解，这样顺着题意列出方程思考起来比较方</tspan><tspan x="480" dy="12.7">便。)</tspan></text></g>
<g id="C432" class="b"><rect x="474" y="3423" width="208" height="46"/><text x="480" y="3433.3">2、用方程解答稍复杂的分数应用题的关键是<tspan x="480" dy="12.7">什么?(关键是找准单位"1"，再按照题意找出</tspan><tspan x="480" dy="12.7">数量间的相等关系列出方程)</tspan></text></g>
<g id="C44" class="b"><rect x="701" y="3518" width="69" height="21"/><text x="707" y="3528.5">四、当堂测评</text></g>
<g id="C441" class="b"><rect x="564" y="3494" width="118" height="20"/><text x="570" y="3504">练习十第4、12、14题。</text></g>
<g id="C442" class="b"><rect x="474" y="3538" width="208" height="33"/><text x="480" y="3548.15">学生独立完成，教师巡回指点，有困难的学生<tspan x="480" dy="12.7">及时请教优秀学生，做到"一帮一、兵强兵"。</tspan></text></g>
<g id="C5" class="b"><rect x="789" y="3626" width="60" height="20"/><text x="795" y="3636">设计意图:</text></g>
<g id="C51" class="b"><rect x="562" y="3594" width="208" height="34"/><text x="568" y="3604.65">继续发挥线段图的作用，以方便学生理解，寻<tspan x="568" dy="12.7">求解决问题的方法。</tspan></text></g>
<g id="C52" class="b"><rect x="721" y="3651" width="49" height="21"/><text x="727" y="3661.5">教学后记</text></g>

<g id="R1" class="r"><rect x="789" y="3762" width="60" height="21"/><text x="795" y="3772.5">教学目标:</text></g>
<g id="R11" class="r"><rect x="562" y="3695" width="208" height="46"/><text x="568" y="3705.3">1、使学生掌握分数乘法应用题的数量关系，<tspan x="568" dy="12.7">学会应用一个数乘以分数的意义解答分数乘法</tspan><tspan x="568" dy="12.7">的两步应用题。</tspan></text></g>
<g id="R12" class="r"><rect x="562" y="3809" width="208" height="33"/><text x="568" y="3819.15">2、发展学生思维,侧重培养学生分析问题的能<tspan x="568" dy="12.7">力。</tspan></text></g>
<g id="R121" class="r"><rect x="414" y="3783" width="127" height="20"/><text x="420" y="3793">教学重点：理解数量关系。</text></g>
<g id="R122" class="r"><rect x="334" y="3809" width="207" height="33"/><text x="340" y="3819.15">教学难点：根据多几分之几或少几分之几找出<tspan x="340" dy="12.7">所求量是多少。</tspan></text></g>
<g id="R123" class="r"><rect x="424" y="3867" width="117" height="20"/><text x="430" y="3877">教具准备：多媒体课件。</text></g>
<g id="R2" class="r"><rect x="789" y="4688" width="60" height="20"/><text x="795" y="4698">教学过程:</text></g>
<g id="R21" class="r"><rect x="651" y="4147" width="119" height="21"/><text x="657" y="4157.5">一、 旧知铺垫(课件出示)</text></g>
<g id="R211" class="r"><rect x="425" y="3964" width="207" height="33"/><text x="431" y="3974.15">1、口答：把什么看作单位"1"的量，谁是几<tspan x="431" dy="12.7">分之几相对应的量?</tspan></text></g>
<g id="R2111" class="r"><rect x="195" y="3910" width="209" height="34"/><text x="201" y="3920.65">(1)一块布做衣服用去， (2)用去一部分钱后<tspan x="201" dy="12.7">，还剩下。</tspan></text></g>
<g id="R2112" class="r"><rect x="195" y="3968" width="209" height="33"/><text x="201" y="3978.15">(3)一条路，已修了。 (4)水结成冰，体积膨<tspan x="201" dy="12.7">胀。</tspan></text></g>
<g id="R2113" class="r"><rect x="311" y="4024" width="93" height="21"/><text x="317" y="4034.5">(5)甲数比乙数少。</text></g>
<g id="R212" class="r"><rect x="559" y="4133" width="73" height="20"/><text x="565" y="4143">2、口头列式：</text></g>
<g id="R2121" class="r"><rect x="366" y="4068" width="172" height="21"/><text x="372" y="4078.5">(1)32的 是多少? (2)120页的 是多少?</text></g>
<g id="R2122" class="r"><rect x="330" y="4112" width="208" height="47"/><text x="336" y="4122.8">(3)绿化造林对可降低噪音，原来80分贝的汽<tspan x="336" dy="12.7">笛噪音，经绿化隔离带后，降低了，降低了</tspan><tspan x="336" dy="12.7">多少分贝?</tspan></text></g>
<g id="R2123" class="r"><rect x="330" y="4182" width="208" height="46"/><text x="336" y="4192.3">(4)绿化造林对可降低噪音，原来80分贝的汽<tspan x="336" dy="12.7">笛噪音，经绿化隔离带后只剩下原来的，人</tspan><tspan x="336" dy="12.7">现在听到的声音是多少分贝?</tspan></text></g>
<g id="R213" class="r"><rect x="425" y="4252" width="207" height="34"/><text x="431" y="4262.65">3、你能把口头列式计算中的第(3)(4)题合并<tspan x="431" dy="12.7">成一道题吗?</tspan></text></g>
<g id="R214" class="r"><rect x="425" y="4309" width="207" height="46"/><text x="431" y="4319.3">4、根据学生回答，出示例4，并指出：这就<tspan x="431" dy="12.7">是我们今天要学习的"稍复杂的分数乘法应用</tspan><tspan x="431" dy="12.7">题"。</tspan></text></g>
<g id="R22" class="r"><rect x="701" y="4751" width="69" height="20"/><text x="707" y="4761">二、新知探究</text></g>
<g id="R221" class="r"><rect x="620" y="4591" width="62" height="20"/><text x="626" y="4601">(一)教学例2</text></g>
<g id="R2211" class="r"><rect x="486" y="4439" width="115" height="22"/><text x="492" y="4450">1、课件出示自学提纲:</text></g>
<g id="R22111" class="r"><rect x="269" y="4380" width="199" height="20"/><text x="275" y="4390">1)画出线段图，分析题意，寻找解题方法。</text></g>
<g id="R22112" class="r"><rect x="259" y="4424" width="209" height="47"/><text x="265" y="4434.8">2)小组间说出图中各部分表示什么?哪些是已<tspan x="265" dy="12.7">知的，哪些是要求的，哪一个是表示单位"1"</tspan><tspan x="265" dy="12.7">的量?让后把线段图表示完整。</tspan></text></g>
<g id="R22113" class="r"><rect x="259" y="4493" width="209" height="34"/><text x="265" y="4503.65">3)四人小组讨论，根据线段图提出不同解决办<tspan x="265" dy="12.7">法，并列式计算。</tspan></text></g>
<g id="R2212" class="r"><rect x="526" y="4574" width="75" height="20"/><text x="532" y="4584">2、学生汇报:</text></g>
<g id="R22121" class="r"><rect x="339" y="4550" width="167" height="22"/><text x="345" y="4561">解法一：80-80× =80-10=70(分贝)</text></g>
<g id="R22122" class="r"><rect x="344" y="4595" width="162" height="20"/><text x="350" y="4605">解法二：80×(1- )=80× =70(分贝)</text></g>
<g id="R2213" class="r"><rect x="393" y="4664" width="208" height="34"/><text x="399" y="4674.65">3、学生讨论两种解法的不同：两种方法都是<tspan x="399" dy="12.7">从整体与部分的关系入手。第一种思路是从</tspan></text></g>
<g id="R22131" class="r"><rect x="164" y="4639" width="209" height="34"/><text x="170" y="4649.65">总量里减去一个部分量;第二种方法是求出部<tspan x="170" dy="12.7">分量与总量的比较关系，再运用求一个数的</tspan></text></g>
<g id="R22132" class="r"><rect x="184" y="4696" width="189" height="21"/><text x="190" y="4706.5">几份之几是多少的方法求出这个部分量。</text></g>
<g id="R2214" class="r"><rect x="471" y="4738" width="130" height="21"/><text x="477" y="4748.5">4、巩固练习：P20"做一做"</text></g>
<g id="R222" class="r"><rect x="620" y="4915" width="62" height="20"/><text x="626" y="4925">(二)教学例3</text></g>
<g id="R2221" class="r"><rect x="393" y="4783" width="208" height="47"/><text x="399" y="4793.8">1、读题理解题意后，提出"婴儿每分钟心跳<tspan x="399" dy="12.7">的次数比青少年多 "表示什么意思?(组织学生</tspan><tspan x="399" dy="12.7">讨论，说说自己的理解)</tspan></text></g>
<g id="R2222" class="r"><rect x="393" y="4852" width="208" height="61"/><text x="399" y="4863.45">2、引导学生将句子转化为"婴儿每分钟比青<tspan x="399" dy="12.7">少年多跳的次数是青少年每分钟心跳次数的 "</tspan><tspan x="399" dy="12.7">。着重让学生说说谁与谁比，把谁看作单位"</tspan><tspan x="399" dy="12.7">1"。</tspan></text></g>
<g id="R2223" class="r"><rect x="393" y="4944" width="208" height="48"/><text x="399" y="4955.3">3、出示线段图，学生讨论交流，结合例2的<tspan x="399" dy="12.7">解题方法，学生独立列式计算后全班交流两种</tspan><tspan x="399" dy="12.7">解题方法。</tspan></text></g>
<g id="R22231" class="r"><rect x="204" y="4935" width="169" height="23"/><text x="210" y="4946.5">解法一：75+75× =75+60=135(次)</text></g>
<g id="R22232" class="r"><rect x="211" y="4979" width="162" height="23"/><text x="217" y="4990.5">解法二：75×(1+ )=75× =135(次)</text></g>
<g id="R2224" class="r"><rect x="393" y="5024" width="208" height="35"/><text x="399" y="5035.15">4、巩固练习：P21"做一做"(列式后让学生说<tspan x="399" dy="12.7">说算式各部分表示什么)</tspan></text></g>
<g id="R23" class="r"><rect x="701" y="5133" width="69" height="20"/><text x="707" y="5143">三、当堂测评</text></g>
<g id="R231" class="r"><rect x="559" y="5081" width="123" height="22"/><text x="565" y="5092">练习五第2、3、4、5题。</text></g>
<g id="R232" class="r"><rect x="474" y="5125" width="208" height="35"/><text x="480" y="5136.15">1、学生依据例题引导的解题方法，引导学生<tspan x="480" dy="12.7">抓住题目中关键句子分析，找到谁与谁比，</tspan></text></g>
<g id="R2321" class="r"><rect x="245" y="5125" width="209" height="35"/><text x="251" y="5136.15">谁是表示单位"1"的量，独立完成，教师巡回<tspan x="251" dy="12.7">指点，照顾差生。</tspan></text></g>
<g id="R233" class="r"><rect x="477" y="5182" width="205" height="22"/><text x="483" y="5193">2、小组间解决疑难，全班汇报，教师讲评。</text></g>
<g id="R24" class="r"><rect x="671" y="5227" width="99" height="20"/><text x="677" y="5237">四、谈收获、找疑难</text></g>
<g id="R241" class="r"><rect x="464" y="5226" width="187" height="21"/><text x="470" y="5236.5">这节课你有什么收获?还有什么不懂的吗?</text></g>
<g id="R3" class="r"><rect x="789" y="5342" width="60" height="20"/><text x="795" y="5352">设计意图:</text></g>
<g id="R31" class="r"><rect x="562" y="5270" width="208" height="60"/><text x="568" y="5280.95">例2和例3都是在理解和掌握了求一个数的几<tspan x="568" dy="12.7">分之几是多少的问题的思路和方法的基础上，</tspan><tspan x="568" dy="12.7">学习解决稍复杂的求一个数的几分之几是多少</tspan><tspan x="568" dy="12.7">的问题。</tspan></text></g>
<g id="R32" class="r"><rect x="562" y="5353" width="208" height="99"/><text x="568" y="5364.4">教学中，我依然依据教学例1时教给学生的解<tspan x="568" dy="12.7">答步骤进行分析解答，找出单位"1"，并画出</tspan><tspan x="568" dy="12.7">线段图帮助理解。教学中，我引导学生紧扣线</tspan><tspan x="568" dy="12.7">段图，直观地理解题意，并引导学生从数量和</tspan><tspan x="568" dy="12.7">分率两方面入手，培养学生思维的多样性。但</tspan><tspan x="568" dy="12.7">本堂课，老师讲解的部分似乎多了一些，留给</tspan><tspan x="568" dy="12.7">学生讨论、练习的时间稍为紧凑。</tspan></text></g>

<g id="D1" class="r"><rect x="1564" y="881" width="210" height="35"/><text x="1570" y="892.15">已知一个数的几分之几是多少求这个数的应用<tspan x="1570" dy="12.7">题</tspan></text></g>
<g id="D2" class="r"><rect x="1564" y="986" width="60" height="20"/><text x="1570" y="996">教学目标:</text></g>
<g id="D21" class="r"><rect x="1644" y="939" width="207" height="46"/><text x="1650" y="949.3">1、使学生学会掌握"已知一个数的几分之几<tspan x="1650" dy="12.7">是多少，求这个数"的应用题的解答方法，能</tspan><tspan x="1650" dy="12.7">熟练地列方程解答这类应用题。</tspan></text></g>
<g id="D22" class="r"><rect x="1644" y="1008" width="207" height="47"/><text x="1650" y="1018.8">2、进一步培养学生自主探索问题解决的能力<tspan x="1650" dy="12.7">和分析、推理和判断等思维能力，提高解答应</tspan><tspan x="1650" dy="12.7">用题的能力。</tspan></text></g>
<g id="D3" class="r"><rect x="1564" y="1078" width="60" height="20"/><text x="1570" y="1088">教学重点:</text></g>
<g id="D31" class="r"><rect x="1644" y="1078" width="203" height="21"/><text x="1650" y="1088.5">弄清单位"1"的量，会分析题中的数量关系。</text></g>
<g id="D4" class="r"><rect x="1564" y="1153" width="60" height="22"/><text x="1570" y="1164">教学难点:</text></g>
<g id="D41" class="r"><rect x="1644" y="1122" width="207" height="34"/><text x="1650" y="1132.65">分数除法应用题的特点及解题思路和解题方法<tspan x="1650" dy="12.7">。</tspan></text></g>
<g id="D42" class="r"><rect x="1644" y="1179" width="118" height="21"/><text x="1650" y="1189.5">教具准备：多媒体课件。</text></g>
<g id="D5" class="r"><rect x="1564" y="2169" width="60" height="21"/><text x="1570" y="2179.5">教学过程:</text></g>
<g id="D51" class="r"><rect x="1644" y="1395" width="116" height="21"/><text x="1650" y="1405.5">一、旧知铺垫(课件出示)</text></g>
<g id="D511" class="r"><rect x="1778" y="1290" width="124" height="21"/><text x="1784" y="1300.5">1、根据题意列出关系式。</text></g>
<g id="D5111" class="r"><rect x="1922" y="1224" width="111" height="20"/><text x="1928" y="1234">(1)一个数的3/4等于12。</text></g>
<g id="D5112" class="r"><rect x="1922" y="1268" width="156" height="21"/><text x="1928" y="1278.5">(2)男生人数的11/12等于220人。</text></g>
<g id="D5113" class="r"><rect x="1922" y="1311" width="91" height="22"/><text x="1928" y="1322">(3)甲数的5/8是40.</text></g>
<g id="D5114" class="r"><rect x="1922" y="1355" width="116" height="22"/><text x="1928" y="1366">(4)乙数的4/5刚好是1/6.</text></g>
<g id="D512" class="r"><rect x="1778" y="1501" width="65" height="21"/><text x="1784" y="1511.5">2、解决问题</text></g>
<g id="D5121" class="r"><rect x="1862" y="1400" width="208" height="59"/><text x="1868" y="1410.45">根据测定，成人体内的水分约占体重的，而<tspan x="1868" dy="12.7">儿童体内的水分约占体重的，六年级学生小</tspan><tspan x="1868" dy="12.7">明的体重为35千克，他体内的水分有多少千</tspan><tspan x="1868" dy="12.7">克?</tspan></text></g>
<g id="D5122" class="r"><rect x="1862" y="1507" width="208" height="35"/><text x="1868" y="1518.15">(1)看看题目中所给的三个条件是否都用得上<tspan x="1868" dy="12.7">，并说说为什么。</tspan></text></g>
<g id="D51221" class="r"><rect x="2090" y="1482" width="209" height="34"/><text x="2096" y="1492.65">选择解决问题所需的条件，确定出单位"1"，<tspan x="2096" dy="12.7">并引导学生说出数量关系式。</tspan></text></g>
<g id="D51222" class="r"><rect x="2090" y="1539" width="147" height="21"/><text x="2096" y="1549.5">小明的体重× =体内水分的重量</text></g>
<g id="D5123" class="r"><rect x="1862" y="1584" width="112" height="21"/><text x="1868" y="1594.5">(2)指名口头列式计算。</text></g>
<g id="D52" class="r"><rect x="1644" y="2068" width="69" height="21"/><text x="1650" y="2078.5">二、新知探究</text></g>
<g id="D521" class="r"><rect x="1731" y="2068" width="65" height="21"/><text x="1737" y="2078.5">(一)教学例1.</text></g>
<g id="D5211" class="r"><rect x="1815" y="1710" width="114" height="22"/><text x="1821" y="1721">1、课件出示自学提纲:</text></g>
<g id="D52111" class="r"><rect x="1949" y="1627" width="209" height="36"/><text x="1955" y="1638.65">(1)这一例题和复习中的题有什么不同和相同<tspan x="1955" dy="12.7">呢?想一想。</tspan></text></g>
<g id="D52112" class="r"><rect x="1949" y="1686" width="161" height="20"/><text x="1955" y="1696">(2)有几个问题?都和哪些条件有关?</text></g>
<g id="D52113" class="r"><rect x="1949" y="1729" width="209" height="34"/><text x="1955" y="1739.65">(3)读题、理解题意，并画出线段图来表示题<tspan x="1955" dy="12.7">意</tspan></text></g>
<g id="D52114" class="r"><rect x="1949" y="1787" width="121" height="21"/><text x="1955" y="1797.5">(4)独立解决第一个问题。</text></g>
<g id="D5212" class="r"><rect x="1815" y="1939" width="65" height="20"/><text x="1821" y="1949">2、全班汇报</text></g>
<g id="D52121" class="r"><rect x="1899" y="1830" width="210" height="34"/><text x="1905" y="1840.65">(1)学生结合线段图理解题意，分析题中的数<tspan x="1905" dy="12.7">量关系式，并写出等量关系式。</tspan></text></g>
<g id="D521211" class="r"><rect x="2127" y="1836" width="147" height="22"/><text x="2133" y="1847">小明的体重× =体内水分的重量</text></g>
<g id="D52122" class="r"><rect x="1899" y="1887" width="210" height="35"/><text x="1905" y="1898.15">(2)相同点和不同点(相同点是它们的数量关系<tspan x="1905" dy="12.7">是一样的;不同点是已知条件和问题变了)。</tspan></text></g>
<g id="D52123" class="r"><rect x="1899" y="1944" width="210" height="60"/><text x="1905" y="1954.95">(3)列方程来解决问题，这道题什么是单位"1"<tspan x="1905" dy="12.7">?单位"1"是已知的还是未知的?怎样求?(引导</tspan><tspan x="1905" dy="12.7">学生根据数量关系式，将未知的单位"1"设为</tspan><tspan x="1905" dy="12.7">χ。)</tspan></text></g>
<g id="D52124" class="r"><rect x="1899" y="2027" width="210" height="48"/><text x="1905" y="2038.3">(4)用算术解来解答应用题。(根据数量关系式<tspan x="1905" dy="12.7">：小明的体重× =体内水分的重量，反过来，</tspan><tspan x="1905" dy="12.7">体内水分的重量÷ =小明的体重)</tspan></text></g>
<g id="D5213" class="r"><rect x="1815" y="2185" width="209" height="34"/><text x="1821" y="2195.65">3、解决第二个问题:小明的体重是爸爸的，<tspan x="1821" dy="12.7">爸爸的体重是多少千克?</tspan></text></g>
<g id="D52131" class="r"><rect x="2042" y="2097" width="177" height="20"/><text x="2048" y="2107">(1)启发学生找关键句，确定单位"1"。</text></g>
<g id="D52132" class="r"><rect x="2042" y="2141" width="209" height="33"/><text x="2048" y="2151.15">(2)让学生选择一种自己喜爱的解法进行计算<tspan x="2048" dy="12.7">，独立解决第二个问题。</tspan></text></g>
<g id="D52133" class="r"><rect x="2042" y="2280" width="209" height="34"/><text x="2048" y="2290.65">(3)指名说说自己是怎样理解题意的，并与其<tspan x="2048" dy="12.7">他同学交流自己的解题思路。(出示线段图)</tspan></text></g>
<g id="D521331" class="r"><rect x="2270" y="2199" width="127" height="20"/><text x="2276" y="2209">爸爸的体重× =小明的体重</text></g>
<g id="D521332" class="r"><rect x="2270" y="2286" width="186" height="22"/><text x="2276" y="2297">①方程解：解：设爸爸的体重是χ千克。</text></g>
<g id="D5213321" class="r"><rect x="2475" y="2243" width="36" height="20"/><text x="2479" y="2253">χ= 35</text></g>
<g id="D5213322" class="r"><rect x="2475" y="2286" width="42" height="22"/><text x="2479" y="2297">χ=35÷</text></g>
<g id="D5213323" class="r"><rect x="2475" y="2331" width="34" height="21"/><text x="2479" y="2341.5">χ=75</text></g>
<g id="D521333" class="r"><rect x="2270" y="2375" width="130" height="21"/><text x="2276" y="2385.5">②算术解：35÷ =75(千克)</text></g>
<g id="D5214" class="r"><rect x="1815" y="2419" width="209" height="34"/><text x="1821" y="2429.65">4、巩固练习：P38"做一做"(学生先独立审题<tspan x="1821" dy="12.7">完成，然后全班再一起分析题意、评讲)</tspan></text></g>
<g id="D53" class="r"><rect x="1644" y="2635" width="116" height="22"/><text x="1650" y="2646">三、当堂测评(课件出示)</text></g>
<g id="D531" class="r"><rect x="1778" y="2537" width="209" height="35"/><text x="1784" y="2548.15">1、根据题意列出算式，不必计算(每题15分)<tspan x="1784" dy="12.7">。</tspan></text></g>
<g id="D5311" class="r"><rect x="2005" y="2476" width="175" height="22"/><text x="2011" y="2487">(1)一个数的2/5是40，这个数是多少?</text></g>
<g id="D5312" class="r"><rect x="2005" y="2520" width="175" height="22"/><text x="2011" y="2531">(2)一个数的3/8是24，这个数是多少?</text></g>
<g id="D5313" class="r"><rect x="2005" y="2564" width="203" height="22"/><text x="2011" y="2575">(3)甲数是100，占乙数的4/5，乙数是多少?</text></g>
<g id="D5314" class="r"><rect x="2005" y="2609" width="210" height="34"/><text x="2011" y="2619.65">(4)甲数是乙数的2/3，已知甲数是12，乙数<tspan x="2011" dy="12.7">是多少?</tspan></text></g>
<g id="D532" class="r"><rect x="1778" y="2725" width="102" height="21"/><text x="1784" y="2735.5">2、解决问题(40分)。</text></g>
<g id="D5321" class="r"><rect x="1900" y="2665" width="210" height="35"/><text x="1906" y="2676.15">某校有女生160人，正好占男生的8/9，男生<tspan x="1906" dy="12.7">有多少人?</tspan></text></g>
<g id="D5322" class="r"><rect x="1900" y="2722" width="210" height="35"/><text x="1906" y="2733.15">学生独立完成，教师巡回指点，注重学困生的<tspan x="1906" dy="12.7">提高。</tspan></text></g>
<g id="D5323" class="r"><rect x="1900" y="2779" width="160" height="22"/><text x="1906" y="2790">小组内订正、互评，做到兵强兵。</text></g>
<g id="D54" class="r"><rect x="1644" y="2945" width="69" height="20"/><text x="1650" y="2955">四、课堂总结</text></g>
<g id="D541" class="r"><rect x="1731" y="2824" width="209" height="59"/><text x="1737" y="2834.45">这节课我们学习了分数应用题中"已知一个数<tspan x="1737" dy="12.7">的几分之几是多少求这个数的应用题"，我们</tspan><tspan x="1737" dy="12.7">知道了，如果关键句中的单位"1"是未知的话</tspan><tspan x="1737" dy="12.7">，可以用方程或除法进行解答。</tspan></text></g>
<g id="D542" class="r"><rect x="1731" y="2907" width="51" height="20"/><text x="1736" y="2917">设计意图:</text></g>
<g id="D543" class="r"><rect x="1731" y="2951" width="209" height="72"/><text x="1737" y="2961.6">本堂课我设计了"题目——线段图——等量关<tspan x="1737" dy="12.7">系式——解决问题"这样四个环节来教学例题</tspan><tspan x="1737" dy="12.7">的第(1)个问题，以使学生很清晰地掌握解题</tspan><tspan x="1737" dy="12.7">思路，引导学生解决问题的同时教给他们此类</tspan><tspan x="1737" dy="12.7">问题的解决方法。</tspan></text></g>
<g id="D544" class="r"><rect x="1731" y="3047" width="51" height="20"/><text x="1736" y="3057">教学后记</text></g>

<g id="E1" class="b"><rect x="1564" y="3200" width="60" height="21"/><text x="1570" y="3210.5">教学目标:</text></g>
<g id="E11" class="b"><rect x="1644" y="3090" width="207" height="60"/><text x="1650" y="3100.95">1、联系生活实际，创设探究情境，使学生初<tspan x="1650" dy="12.7">步掌握分数乘法应用题的数量关系，学会应用</tspan><tspan x="1650" dy="12.7">一个数乘以分数的意义解答分数乘法一步应用</tspan><tspan x="1650" dy="12.7">题。</tspan></text></g>
<g id="E12" class="b"><rect x="1644" y="3173" width="207" height="34"/><text x="1650" y="3183.65">2、在观察、猜想、尝试练习、交流反馈等活<tspan x="1650" dy="12.7">动中，培养学生分析能力，发展学生思维。</tspan></text></g>
<g id="E13" class="b"><rect x="1644" y="3283" width="207" height="34"/><text x="1650" y="3293.65">3、创设开放、民主、有趣的自主探究空间，<tspan x="1650" dy="12.7">鼓励学生大胆质疑，培养他们的创新能力。</tspan></text></g>
<g id="E131" class="b"><rect x="1871" y="3229" width="209" height="35"/><text x="1877" y="3240.15">教学重点：理解题中的单位"1"和问题的关系<tspan x="1877" dy="12.7">。</tspan></text></g>
<g id="E132" class="b"><rect x="1871" y="3286" width="209" height="35"/><text x="1877" y="3297.15">教学难点：抓住知识关键，正确、灵活判断单<tspan x="1877" dy="12.7">位"1"。</tspan></text></g>
<g id="E133" class="b"><rect x="1871" y="3344" width="119" height="21"/><text x="1877" y="3354.5">教具准备：多媒体课件。</text></g>
<g id="E2" class="b"><rect x="1564" y="3585" width="60" height="21"/><text x="1570" y="3595.5">教学过程:</text></g>
<g id="E21" class="b"><rect x="1644" y="3442" width="116" height="22"/><text x="1650" y="3453">一、旧知铺垫(课件出示)</text></g>
<g id="E211" class="b"><rect x="1778" y="3387" width="209" height="35"/><text x="1784" y="3398.15">1、先说下列各算式表示的意义，再口算出得<tspan x="1784" dy="12.7">数。</tspan></text></g>
<g id="E2111" class="b"><rect x="2007" y="3395" width="40" height="21"/><text x="2012" y="3405.5">12× ×</text></g>
<g id="E212" class="b"><rect x="1778" y="3445" width="73" height="21"/><text x="1784" y="3455.5">2、列式计算。</text></g>
<g id="E2121" class="b"><rect x="1873" y="3445" width="146" height="21"/><text x="1879" y="3455.5">(1)20的 是多少?(2)6的 是多少?</text></g>
<g id="E213" class="b"><rect x="1778" y="3490" width="206" height="21"/><text x="1784" y="3500.5">3、学生得出：求一个数的几分之几用乘法。</text></g>
<g id="E22" class="b"><rect x="1644" y="3727" width="69" height="21"/><text x="1650" y="3737.5">二、新知探究</text></g>
<g id="E221" class="b"><rect x="1731" y="3587" width="112" height="22"/><text x="1737" y="3598">(一)课件出示自学目标</text></g>
<g id="E2211" class="b"><rect x="1855" y="3534" width="210" height="34"/><text x="1861" y="3544.65">1、通过学习掌握求一个数的几分之几是多少<tspan x="1861" dy="12.7">的应用题的解</tspan></text></g>
<g id="E22111" class="b"><rect x="2084" y="3538" width="129" height="23"/><text x="2090" y="3549.5">题方法并会分析数量关系。</text></g>
<g id="E2212" class="b"><rect x="1855" y="3590" width="170" height="22"/><text x="1861" y="3601">2、知道解这类应用题的关键是什么?</text></g>
<g id="E2213" class="b"><rect x="1855" y="3634" width="120" height="21"/><text x="1861" y="3644.5">3、知道如何找单位"1"。</text></g>
<g id="E222" class="b"><rect x="1731" y="3868" width="71" height="21"/><text x="1737" y="3878.5">(二)、教学例1</text></g>
<g id="E2221" class="b"><rect x="1823" y="3790" width="104" height="21"/><text x="1829" y="3800.5">1、课件出示自学提示</text></g>
<g id="E22211" class="b"><rect x="1947" y="3678" width="208" height="35"/><text x="1953" y="3689.15">(1)、正确理解关键句"我国人均耕地面积仅占<tspan x="1953" dy="12.7">世界人均耕地面积的 "。</tspan></text></g>
<g id="E22212" class="b"><rect x="1947" y="3735" width="201" height="21"/><text x="1953" y="3745.5">(2)、结合线段图理解题意，找到解题思路。</text></g>
<g id="E22213" class="b"><rect x="1947" y="3779" width="208" height="86"/><text x="1953" y="3790.25">(3)、如何来理解单位"1"?(小组讨论，理解这<tspan x="1953" dy="12.7">句话是把"我们人均耕地面积"与"世界人均耕</tspan><tspan x="1953" dy="12.7">地面积"相比较，其中"世界人均耕地面积"是</tspan><tspan x="1953" dy="12.7">表示单位"1"的量，知道世界人均耕地面积为</tspan><tspan x="1953" dy="12.7">2500平方米，求我国人均耕地面积就是求25</tspan><tspan x="1953" dy="12.7">00的 是多少)</tspan></text></g>
<g id="E22214" class="b"><rect x="1947" y="3887" width="208" height="35"/><text x="1953" y="3898.15">(4)、在分析题意的基础上，学生独立列式、<tspan x="1953" dy="12.7">计算。</tspan></text></g>
<g id="E2222" class="b"><rect x="1823" y="3946" width="104" height="21"/><text x="1829" y="3956.5">2、学生根据提示自学</text></g>
<g id="E3" class="b"><rect x="1564" y="4088" width="79" height="22"/><text x="1570" y="4099">全班交流汇报:</text></g>
<g id="E31" class="b"><rect x="1664" y="3989" width="110" height="21"/><text x="1670" y="3999.5">2500× =1000(平方米)</text></g>
<g id="E32" class="b"><rect x="1664" y="4033" width="208" height="35"/><text x="1670" y="4044.15">3、结合计算结果，让学生说说自己的想法，<tspan x="1670" dy="12.7">培养学生分析数据的能力，进行国情教育。</tspan></text></g>
<g id="E33" class="b"><rect x="1664" y="4175" width="208" height="47"/><text x="1670" y="4185.8">4、巩固练习："做一做"，让学生画线段图表<tspan x="1670" dy="12.7">示题意，说说自己是怎样想的?依据是什么?然</tspan><tspan x="1670" dy="12.7">后独立解答。</tspan></text></g>
<g id="E331" class="b"><rect x="1892" y="4135" width="68" height="22"/><text x="1898" y="4146">三、当堂测评</text></g>
<g id="E3311" class="b"><rect x="1980" y="4090" width="110" height="22"/><text x="1986" y="4101">练习四第2题、第3题。</text></g>
<g id="E3312" class="b"><rect x="1980" y="4134" width="198" height="22"/><text x="1986" y="4145">学生独立完成，教师巡回指点，照顾差生。</text></g>
<g id="E3313" class="b"><rect x="1980" y="4179" width="69" height="21"/><text x="1986" y="4189.5">小组内订正后</text></g>
<g id="E332" class="b"><rect x="1892" y="4243" width="68" height="21"/><text x="1898" y="4253.5">四、课堂总结</text></g>
<g id="E3321" class="b"><rect x="1980" y="4223" width="209" height="59"/><text x="1986" y="4233.45">解答"求一个数的几分之几是多少"的应用题的<tspan x="1986" dy="12.7">解题步骤是什么?(找出关键句、确定单位"1"</tspan><tspan x="1986" dy="12.7">，画出线段图帮助理解题意，最后再列式解答</tspan><tspan x="1986" dy="12.7">)</tspan></text></g>
<g id="E4" class="b"><rect x="1564" y="4373" width="60" height="21"/><text x="1570" y="4383.5">设计意图:</text></g>
<g id="E41" class="b"><rect x="1644" y="4306" width="207" height="59"/><text x="1650" y="4316.45">本堂课是解决"求一个数的几分之几是多少"的<tspan x="1650" dy="12.7">问题，教学中，我紧扣分数乘分数的意义进行</tspan><tspan x="1650" dy="12.7">复习，并事先复习如"20的 是多少?"的文字题</tspan><tspan x="1650" dy="12.7">，为解决与此相似的应用题做好准备。</tspan></text></g>
<g id="E42" class="b"><rect x="1644" y="4388" width="207" height="86"/><text x="1650" y="4399.25">由于本节课是分数应用题学习的初始，因而教<tspan x="1650" dy="12.7">学中，我除了帮助学生分析、理解题意之外，</tspan><tspan x="1650" dy="12.7">更重要的还在于教给学生分析、解答分数应用</tspan><tspan x="1650" dy="12.7">题的方法，特别是在如何找单位"1"这个关键</tspan><tspan x="1650" dy="12.7">点上，更是花了较多的时间，但我认为这是十</tspan><tspan x="1650" dy="12.7">分必要的。</tspan></text></g>

<g id="F1" class="y"><rect x="1564" y="4497" width="194" height="22"/><text x="1570" y="4508">★ 二年级上册数学第六单元2021范文教案</text></g>
<g id="F2" class="y"><rect x="1564" y="4542" width="181" height="21"/><text x="1570" y="4552.5">★ 小学六年级数学下册应用题专项练习</text></g>
<g id="F3" class="y"><rect x="1564" y="4586" width="210" height="33"/><text x="1570" y="4596.15">★ 小学数学三年级上册三疑三探教案2021范<tspan x="1570" dy="12.7">文</tspan></text></g>
<g id="F4" class="y"><rect x="1564" y="4642" width="153" height="21"/><text x="1570" y="4652.5">★ 一年级第几教案数学2021例文</text></g>
<g id="F5" class="y"><rect x="1564" y="4686" width="194" height="21"/><text x="1570" y="4696.5">★ 一年级数学下册第七单元教案2021例文</text></g>
<g id="F6" class="y"><rect x="1564" y="4731" width="150" height="20"/><text x="1570" y="4741">★ 五年级数学第二学期期中测试</text></g>
<g id="F7" class="y"><rect x="1564" y="4774" width="210" height="34"/><text x="1570" y="4784.65">★ 一年级下册十几减9退位减法数学教案202<tspan x="1570" dy="12.7">1范文</tspan></text></g>
<g id="F8" class="y"><rect x="1564" y="4831" width="210" height="35"/><text x="1570" y="4842.15">★ 青岛版一年级数学下册教案五四制最新范<tspan x="1570" dy="12.7">文</tspan></text></g>
<g id="F9" class="y"><rect x="1564" y="4888" width="185" height="22"/><text x="1570" y="4899">★ 一年级数学下册总复习教案2021最新</text></g>
<g id="F10" class="y"><rect x="1564" y="4933" width="210" height="33"/><text x="1570" y="4943.15">★ 北师版二年级数学上册总复习教案2021例<tspan x="1570" dy="12.7">文</tspan></text></g>

<g class="wm">
<text transform="translate(648 520) rotate(-31)">树图 shutu.cn</text>
<text transform="translate(1929 520) rotate(-31)">树图 shutu.cn</text>
<text transform="translate(648 1520) rotate(-31)">树图 shutu.cn</text>
<text transform="translate(1929 1520) rotate(-31)">树图 shutu.cn</text>
<text transform="translate(648 2520) rotate(-31)">树图 shutu.cn</text>
<text transform="translate(1929 2520) rotate(-31)">树图 shutu.cn</text>
<text transform="translate(648 3520) rotate(-31)">树图 shutu.cn</text>
<text transform="translate(1929 3520) rotate(-31)">树图 shutu.cn</text>
<text transform="translate(648 4520) rotate(-31)">树图 shutu.cn</text>
<text transform="translate(1929 4520) rotate(-31)">树图 shutu.cn</text>
<text transform="translate(648 5520) rotate(-31)">树图 shutu.cn</text>
<text transform="translate(1929 5520) rotate(-31)">树图 shutu.cn</text>
</g>
</g>
</svg>
